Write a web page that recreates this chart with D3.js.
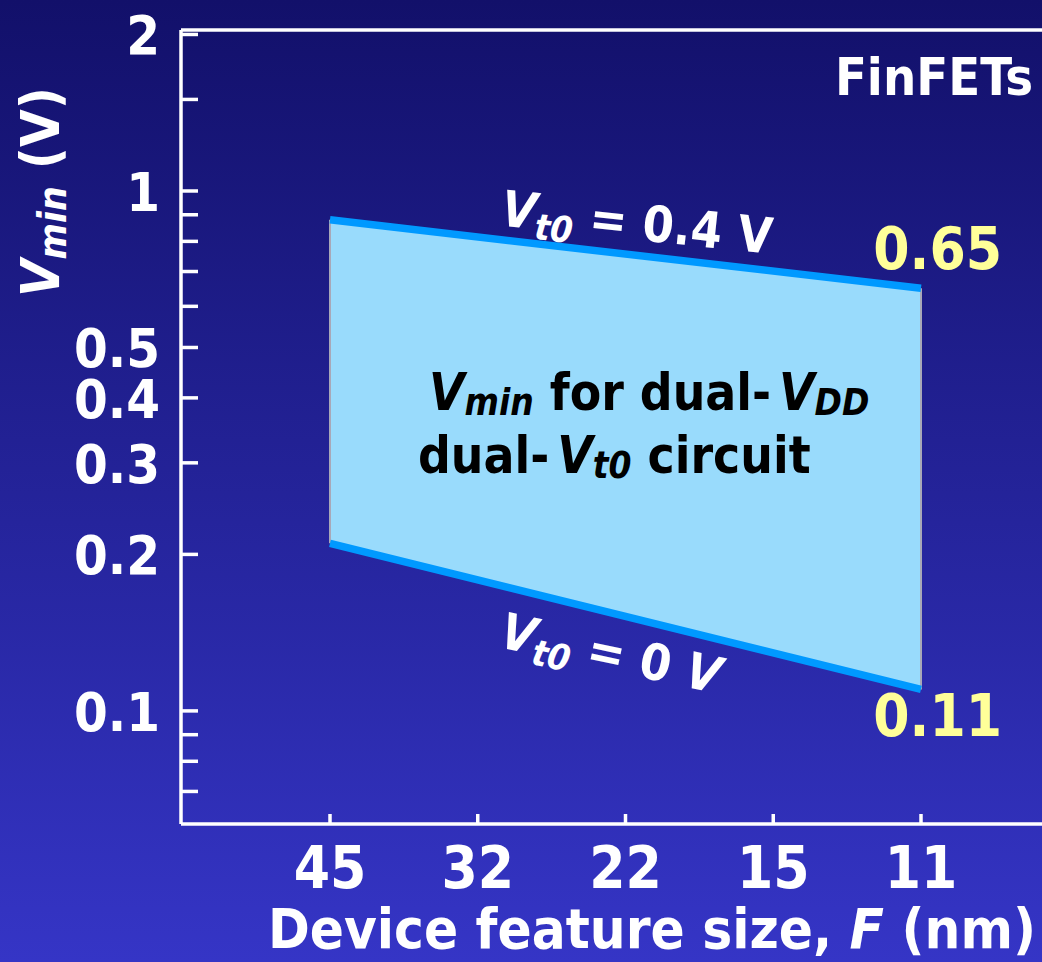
<!DOCTYPE html>
<html>
<head>
<meta charset="utf-8">
<script src="https://cdn.jsdelivr.net/npm/d3@7/dist/d3.min.js"></script>
<style>
  html, body { margin: 0; padding: 0; background: #1c1c88; }
  svg { display: block; }
  text {
    font-family: "DejaVu Sans Condensed", "DejaVu Sans", sans-serif;
    font-weight: bold;
    font-stretch: condensed;
  }
</style>
</head>
<body>
<svg id="chart" width="1042" height="962"></svg>
<script>
// Feature-size nodes along the x axis (nm)
const featureSizes = ["45", "32", "22", "15", "11"];
// Nodes where the Vmin band is evaluated
const boundSizes = ["45", "11"];
// Upper bound of Vmin (Vt0 = 0.4 V), volts
const vminHighVt = [0.88, 0.65];
// Lower bound of Vmin (Vt0 = 0 V), volts
const vminZeroVt = [0.21, 0.11];
// Labelled y ticks and their text
const yTickValues = [2, 1, 0.5, 0.4, 0.3, 0.2, 0.1];
const yTickLabels = ["2", "1", "0.5", "0.4", "0.3", "0.2", "0.1"];
// Unlabelled minor y ticks
const yMinorTicks = [1.5, 0.9, 0.8, 0.7, 0.6, 0.09, 0.08, 0.07];
// Values printed at the 11 nm end of each bound
const endLabels = ["0.65", "0.11"];

const W = 1042, H = 962;
const margin = { left: 181, top: 30, bottom: 824 };

const svg = d3.select("#chart");

// Background gradient
const defs = svg.append("defs");
const grad = defs.append("linearGradient")
  .attr("id", "bg").attr("x1", 0).attr("y1", 0).attr("x2", 0).attr("y2", 1);
grad.append("stop").attr("offset", "0%").attr("stop-color", "#12106a");
grad.append("stop").attr("offset", "100%").attr("stop-color", "#3535c6");
svg.append("rect").attr("width", W).attr("height", H).attr("fill", "url(#bg)");

// Scales
const x = d3.scalePoint().domain(featureSizes).range([330, 921]);
const y = d3.scaleLog().domain([0.0606, 2.04]).range([margin.bottom, margin.top]);

// Vmin band between the two bounds
const bandPts = boundSizes.map((f, i) => [x(f), y(vminHighVt[i])])
  .concat(boundSizes.map((f, i) => [x(f), y(vminZeroVt[i])]).reverse());
svg.append("path")
  .attr("d", d3.line()(bandPts) + "Z")
  .attr("fill", "#99dbfc")
  .attr("stroke", "none");
// Grey vertical edges of the band
boundSizes.forEach((f, i) => {
  svg.append("line")
    .attr("x1", x(f)).attr("x2", x(f))
    .attr("y1", y(vminHighVt[i])).attr("y2", y(vminZeroVt[i]))
    .attr("stroke", "#a8a8b8").attr("stroke-width", 2);
});

// Bound lines
const boundLine = d3.line().x((d, i) => x(boundSizes[i])).y(d => y(d));
[vminHighVt, vminZeroVt].forEach(vals => {
  svg.append("path")
    .attr("d", boundLine(vals))
    .attr("fill", "none")
    .attr("stroke", "#0099ff")
    .attr("stroke-width", 7.5);
});

// Frame / axes
const axisG = svg.append("g").attr("stroke", "#ffffff").attr("stroke-width", 3.5);
axisG.append("line").attr("x1", margin.left).attr("x2", margin.left)
  .attr("y1", margin.top).attr("y2", margin.bottom);
axisG.append("line").attr("x1", margin.left).attr("x2", W + 5)
  .attr("y1", margin.top).attr("y2", margin.top);
axisG.append("line").attr("x1", margin.left).attr("x2", W + 5)
  .attr("y1", margin.bottom).attr("y2", margin.bottom);

// Y ticks (inward)
yTickValues.concat(yMinorTicks).forEach(v => {
  axisG.append("line")
    .attr("x1", margin.left).attr("x2", margin.left + 17)
    .attr("y1", y(v)).attr("y2", y(v));
});
// X ticks (inward)
featureSizes.forEach(f => {
  axisG.append("line")
    .attr("x1", x(f)).attr("x2", x(f))
    .attr("y1", margin.bottom).attr("y2", margin.bottom - 10);
});

// Y tick labels
svg.append("g").selectAll("text").data(yTickValues).join("text")
  .attr("x", 160)
  .attr("y", d => y(d) + 20)
  .attr("text-anchor", "end")
  .attr("fill", "#ffffff")
  .attr("font-size", 54)
  .text((d, i) => yTickLabels[i]);

// X tick labels
svg.append("g").selectAll("text").data(featureSizes).join("text")
  .attr("x", d => x(d))
  .attr("y", 888)
  .attr("text-anchor", "middle")
  .attr("fill", "#ffffff")
  .attr("font-size", 58)
  .text(d => d);

// Helper for text with italic / subscript runs
function richText(sel, parts, size, subShift = 0.22, subScale = 0.68) {
  parts.forEach(p => {
    const ts = sel.append("tspan").text(p.t);
    if (p.italic) ts.attr("font-style", "italic");
    if (p.sub) {
      ts.attr("font-size", size * subScale).attr("dy", size * subShift);
    } else if (p.after) {
      ts.attr("dy", -size * subShift);
    }
    if (p.gap) ts.attr("dx", p.gap);
  });
  return sel;
}

// Axis titles
const xTitle = svg.append("text")
  .attr("x", 1036).attr("y", 948)
  .attr("text-anchor", "end")
  .attr("fill", "#ffffff")
  .attr("font-size", 56);
richText(xTitle, [
  { t: "Device feature size, " },
  { t: "F", italic: true },
  { t: " (nm)" }
], 56);

const yTitle = svg.append("text")
  .attr("transform", "translate(59,297) rotate(-90)")
  .attr("text-anchor", "start")
  .attr("fill", "#ffffff")
  .attr("font-size", 54);
richText(yTitle, [
  { t: "V", italic: true },
  { t: "min", italic: true, sub: true },
  { t: " (V)", after: true }
], 54, 0.13, 0.72);

// Panel label
svg.append("text")
  .attr("x", 1033).attr("y", 95)
  .attr("text-anchor", "end")
  .attr("fill", "#ffffff")
  .attr("font-size", 52)
  .text("FinFETs");

// End value labels
[vminHighVt, vminZeroVt].forEach((vals, i) => {
  const last = vals.length - 1;
  svg.append("text")
    .attr("x", 1002)
    .attr("y", i === 0 ? y(vals[last]) - 19 : y(vals[last]) + 47)
    .attr("text-anchor", "end")
    .attr("fill", "#ffff99")
    .attr("font-size", 58)
    .text(endLabels[i]);
});

// Labels along the bound lines
function lineLabel(vals, offsetX, offsetY, angle, parts) {
  const x0 = x(boundSizes[0]), x1 = x(boundSizes[1]);
  const y0 = y(vals[0]), y1 = y(vals[1]);
  const px = x0 + offsetX;
  const py = y0 + (y1 - y0) * (offsetX / (x1 - x0)) + offsetY;
  const t = svg.append("text")
    .attr("transform", `translate(${px},${py}) rotate(${angle})`)
    .attr("fill", "#ffffff")
    .attr("font-size", 50);
  richText(t, parts, 50, 0.2, 0.72);
}
lineLabel(vminHighVt, 170, -14, 6, [
  { t: "V", italic: true },
  { t: "t0", italic: true, sub: true },
  { t: " = 0.4 V", after: true }
]);
lineLabel(vminZeroVt, 168, 62, 12, [
  { t: "V", italic: true },
  { t: "t0", italic: true, sub: true },
  { t: " = 0 ", after: true },
  { t: "V", italic: true }
]);

// Band description
const desc = svg.append("g").attr("fill", "#000000");
const l1 = desc.append("text").attr("x", 429).attr("y", 410).attr("font-size", 51);
richText(l1, [
  { t: "V", italic: true },
  { t: "min", italic: true, sub: true },
  { t: " for dual-", after: true },
  { t: "V", italic: true, gap: 8 },
  { t: "DD", italic: true, sub: true }
], 51, 0.1, 0.72);
const l2 = desc.append("text").attr("x", 418).attr("y", 473).attr("font-size", 51);
richText(l2, [
  { t: "dual-" },
  { t: "V", italic: true, gap: 8 },
  { t: "t0", italic: true, sub: true },
  { t: " circuit", after: true }
], 51, 0.1, 0.72);
</script>
</body>
</html>
